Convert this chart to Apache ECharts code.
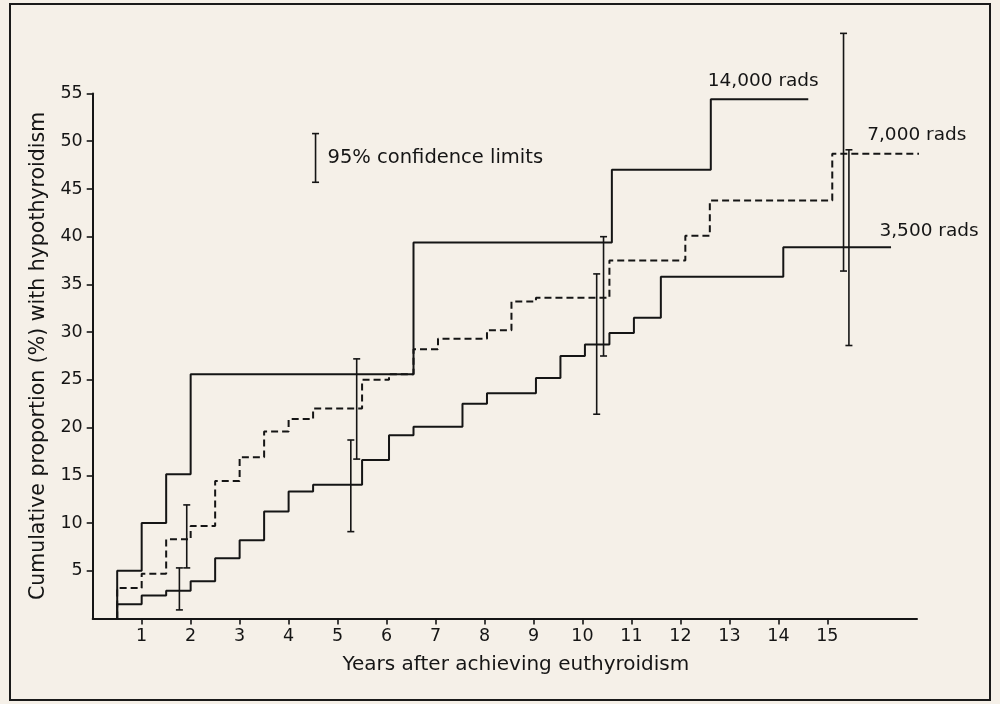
<!DOCTYPE html>
<html><head><meta charset="utf-8">
<script src="https://cdn.jsdelivr.net/npm/echarts@6/dist/echarts.min.js"></script>
<style>html,body{margin:0;padding:0;background:#f5f0e8}#c{width:1000px;height:704px}</style>
</head><body><div id="c"></div>
<script>
// ---- data ----
const xTicks = [1,2,3,4,5,6,7,8,9,10,11,12,13,14,15];
const yTicks = [5,10,15,20,25,30,35,40,45,50,55];
// step points: [years, cumulative %] (value holds from x onward)
const rads14000 = [[0.5,0],[0.5,5.0],[1.0,10.0],[1.5,15.1],[2.0,25.6],[6.55,39.4],[10.6,47.0],[12.62,54.4],[14.61,54.4]];
const rads7000 = [[0.5,0],[0.5,3.2],[1.0,4.7],[1.5,8.3],[2.0,9.7],[2.5,14.4],[3.0,16.9],[3.5,19.6],[4.0,20.9],[4.5,22.0],[5.5,25.0],[6.05,25.6],[6.55,28.2],[7.05,29.3],[8.05,30.2],[8.55,33.2],[9.05,33.6],[10.55,37.5],[12.1,40.1],[12.6,43.8],[15.1,48.7],[17.03,48.7]];
const rads3500 = [[0.5,0],[0.5,1.5],[1.0,2.4],[1.5,2.9],[2.0,3.9],[2.5,6.3],[3.0,8.2],[3.5,11.2],[4.0,13.3],[4.5,14.0],[5.5,16.6],[6.05,19.2],[6.55,20.1],[7.55,22.5],[8.05,23.6],[9.05,25.2],[9.55,27.5],[10.05,28.7],[10.55,29.9],[11.05,31.5],[11.6,35.8],[14.1,38.9],[16.3,38.9]];
// 95% confidence limits: [x, low, high]
const confLimits = [[1.77,0.9,5.3],[1.92,5.3,11.9],[5.27,9.1,18.7],[5.39,16.7,27.2],[10.29,21.4,36.1],[10.43,27.5,40.0],[15.33,36.4,61.3],[15.44,28.6,49.1]];
const legendBar = [[4.55,45.7,50.8]];
const seriesLabels = ['14,000 rads','7,000 rads','3,500 rads'];

const FONT = 'DejaVu Sans';
const INK = '#151515';

function errRender(withText){
  return function(params, api){
    const x = api.value(0), lo = api.value(1), hi = api.value(2);
    const p1 = api.coord([x, lo]), p2 = api.coord([x, hi]);
    const w = 3.5;
    const st = {stroke: INK, lineWidth: 1.6};
    const children = [
      {type:'line', shape:{x1:p1[0],y1:p1[1],x2:p2[0],y2:p2[1]}, style:st},
      {type:'line', shape:{x1:p1[0]-w,y1:p1[1],x2:p1[0]+w,y2:p1[1]}, style:st},
      {type:'line', shape:{x1:p2[0]-w,y1:p2[1],x2:p2[0]+w,y2:p2[1]}, style:st}
    ];
    if (withText) {
      children.push({type:'text', style:{text:'95% confidence limits', x:p1[0]+12, y:(p1[1]+p2[1])/2,
        verticalAlign:'middle', align:'left', fill:INK, font:'19.5px "DejaVu Sans"'}});
    }
    return {type:'group', children};
  };
}

function stepSeries(name, data, dashed){
  return {
    name, type:'line', step:'end', data, showSymbol:false, clip:false, silent:true,
    lineStyle:{color:INK, width:2, type: dashed ? [7,4] : 'solid'},
    z: 3
  };
}

// end-of-line labels: last point of each series, label index, text offset (px)
const labelEnds = [
  [rads14000[rads14000.length-1][0], rads14000[rads14000.length-1][1], 0],
  [rads7000[rads7000.length-1][0], rads7000[rads7000.length-1][1], 1],
  [rads3500[rads3500.length-1][0], rads3500[rads3500.length-1][1], 2]
];
const labelOffsets = [[-45,-18],[-10,-18],[38,-16]];

const chart = echarts.init(document.getElementById('c'));
chart.setOption({
  backgroundColor:'#f5f0e8',
  animation:false,
  textStyle:{fontFamily:FONT, color:INK},
  grid:{left:92.7, right:83, top:93.5, bottom:85.5},
  xAxis:{
    type:'value', min:0, max:16.83,
    name:'Years after achieving euthyroidism', nameLocation:'middle', nameGap:36,
    nameTextStyle:{fontFamily:FONT, fontSize:20, color:INK, padding:[0,0,0,22]},
    axisLine:{lineStyle:{color:INK, width:2}},
    axisTick:{show:true, inside:false, length:6, lineStyle:{color:INK, width:1.6}, customValues:xTicks},
    axisLabel:{fontFamily:FONT, fontSize:17.5, color:INK, margin:9, customValues:xTicks},
    splitLine:{show:false}
  },
  yAxis:{
    type:'value', min:0, max:55, interval:5,
    name:'Cumulative proportion (%) with hypothyroidism', nameLocation:'middle', nameGap:44,
    nameTextStyle:{fontFamily:FONT, fontSize:20.5, color:INK},
    axisLine:{lineStyle:{color:INK, width:2}},
    axisTick:{show:true, inside:false, length:6, lineStyle:{color:INK, width:1.6}, customValues:yTicks},
    axisLabel:{fontFamily:FONT, fontSize:17.5, color:INK, margin:10, customValues:yTicks},
    splitLine:{show:false}
  },
  series:[
    stepSeries('14,000 rads', rads14000, false),
    stepSeries('7,000 rads', rads7000, true),
    stepSeries('3,500 rads', rads3500, false),
    {type:'custom', name:'95% confidence limits', data:confLimits, renderItem:errRender(false), silent:true, z:4},
    {type:'custom', name:'legend', data:legendBar, renderItem:errRender(true), silent:true, z:4},
    {type:'custom', name:'labels', data:labelEnds, silent:true, z:5,
     renderItem:function(params, api){
       const i = api.value(2);
       const p = api.coord([api.value(0), api.value(1)]);
       const o = labelOffsets[i];
       return {type:'text', style:{text:seriesLabels[i], x:p[0]+o[0], y:p[1]+o[1], align:'center',
         verticalAlign:'middle', fill:INK, font:'18.5px "DejaVu Sans"'}};
     }}
  ],
  graphic:[
    {type:'rect', shape:{x:10, y:4, width:980, height:696}, style:{fill:'none', stroke:'#1a1a1a', lineWidth:2}, z:-1}
  ]
});
</script>
</body></html>
